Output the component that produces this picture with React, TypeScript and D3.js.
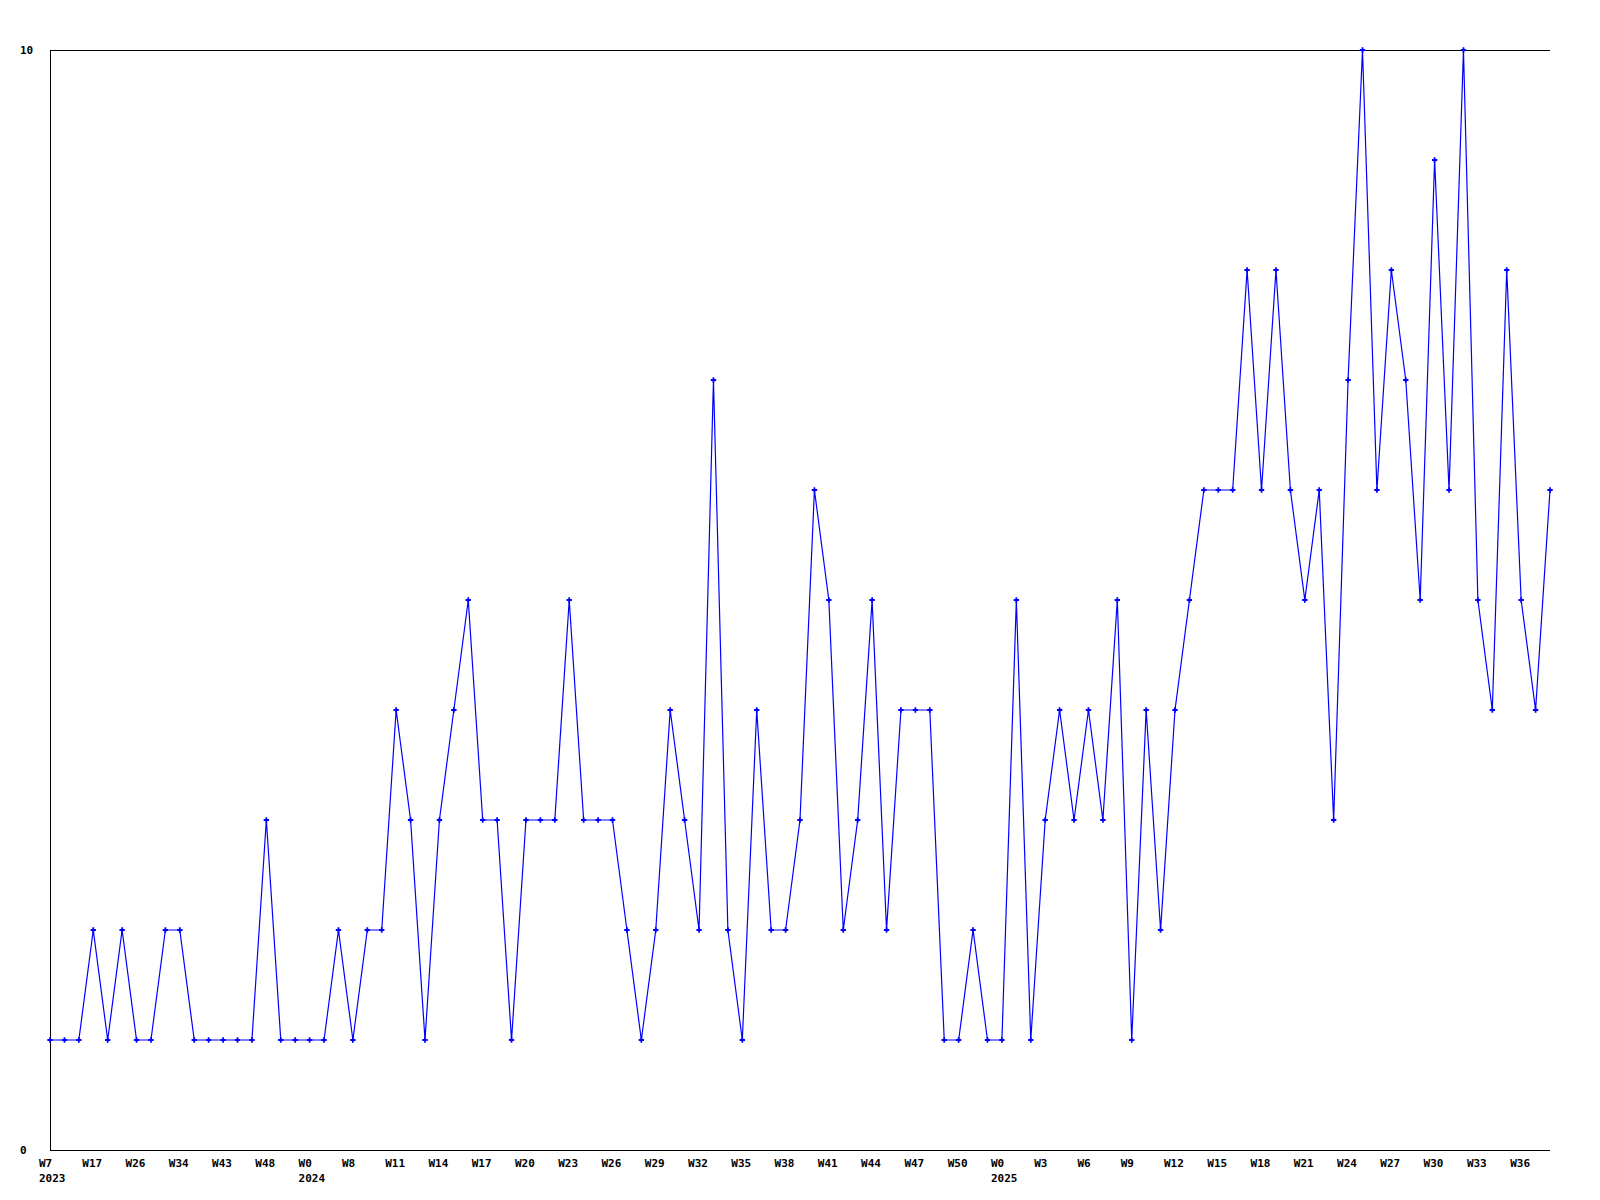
import React from "react";
import * as d3 from "d3";

// weekly counts, one per point
const counts: number[] = [
  1, 1, 1, 2, 1, 2, 1, 1, 2, 2, 1, 1, 1, 1, 1, 3, 1, 1, 1, 1, 2, 1, 2, 2, 4,
  3, 1, 3, 4, 5, 3, 3, 1, 3, 3, 3, 5, 3, 3, 3, 2, 1, 2, 4, 3, 2, 7, 2, 1, 4,
  2, 2, 3, 6, 5, 2, 3, 5, 2, 4, 4, 4, 1, 1, 2, 1, 1, 5, 1, 3, 4, 3, 4, 3, 5,
  1, 4, 2, 4, 5, 6, 6, 6, 8, 6, 8, 6, 5, 6, 3, 7, 10, 6, 8, 7, 5, 9, 6, 10, 5,
  4, 8, 5, 4, 6
];

// one label every third point
const tickLabels: string[] = [
  "W7", "W17", "W26", "W34", "W43", "W48", "W0", "W8", "W11", "W14", "W17",
  "W20", "W23", "W26", "W29", "W32", "W35", "W38", "W41", "W44", "W47", "W50",
  "W0", "W3", "W6", "W9", "W12", "W15", "W18", "W21", "W24", "W27", "W30",
  "W33", "W36"
];
const tickEvery = 3;

// year labels placed under the week tick where the year starts
const yearLabels: { index: number; label: string }[] = [
  { index: 0, label: "2023" },
  { index: 18, label: "2024" },
  { index: 66, label: "2025" }
];

const yTicks = [0, 10];

const W = 1600;
const H = 1200;
const left = 50;
const right = 1550;
const top = 50;
const bottom = 1150;
const font = "'DejaVu Sans Mono', monospace";

export default function App() {
  const x = d3
    .scaleLinear()
    .domain([0, counts.length - 1])
    .range([left, right]);
  const y = d3.scaleLinear().domain([0, 10]).range([bottom, top]);

  const line = d3
    .line<number>()
    .x((d, i) => x(i))
    .y(d => y(d));

  const marker = d3.symbol().type(d3.symbolCross).size(16)();

  return (
    <svg
      width={W}
      height={H}
      style={{ position: "absolute", left: 0, top: 0, background: "#fff" }}
    >
      <rect width={W} height={H} fill="#fff" />
      {/* frame: top, left and bottom lines */}
      <g stroke="#000" strokeWidth={1} shapeRendering="crispEdges">
        <line x1={left} x2={right} y1={top + 0.5} y2={top + 0.5} />
        <line x1={left + 0.5} x2={left + 0.5} y1={top} y2={bottom} />
        <line x1={left} x2={right} y1={bottom + 0.5} y2={bottom + 0.5} />
      </g>

      {yTicks.map(t => (
        <text
          key={t}
          x={20}
          y={y(t)}
          dy="0.35em"
          fontFamily={font}
          fontWeight="bold"
          fontSize={11}
          fill="#000"
        >
          {t}
        </text>
      ))}

      <path
        d={line(counts) || ""}
        fill="none"
        stroke="#0000ff"
        strokeWidth={1.2}
      />
      {counts.map((d, i) => (
        <path
          key={i}
          d={marker || ""}
          transform={`translate(${x(i)},${y(d)})`}
          fill="#0000ff"
        />
      ))}

      {tickLabels.map((label, k) => (
        <text
          key={k}
          x={x(k * tickEvery) - 11}
          y={1163}
          dy="0.35em"
          fontFamily={font}
          fontWeight="bold"
          fontSize={11}
          fill="#000"
        >
          {label}
        </text>
      ))}
      {yearLabels.map(yl => (
        <text
          key={yl.label}
          x={x(yl.index) - 11}
          y={1178}
          dy="0.35em"
          fontFamily={font}
          fontWeight="bold"
          fontSize={11}
          fill="#000"
        >
          {yl.label}
        </text>
      ))}
    </svg>
  );
}
